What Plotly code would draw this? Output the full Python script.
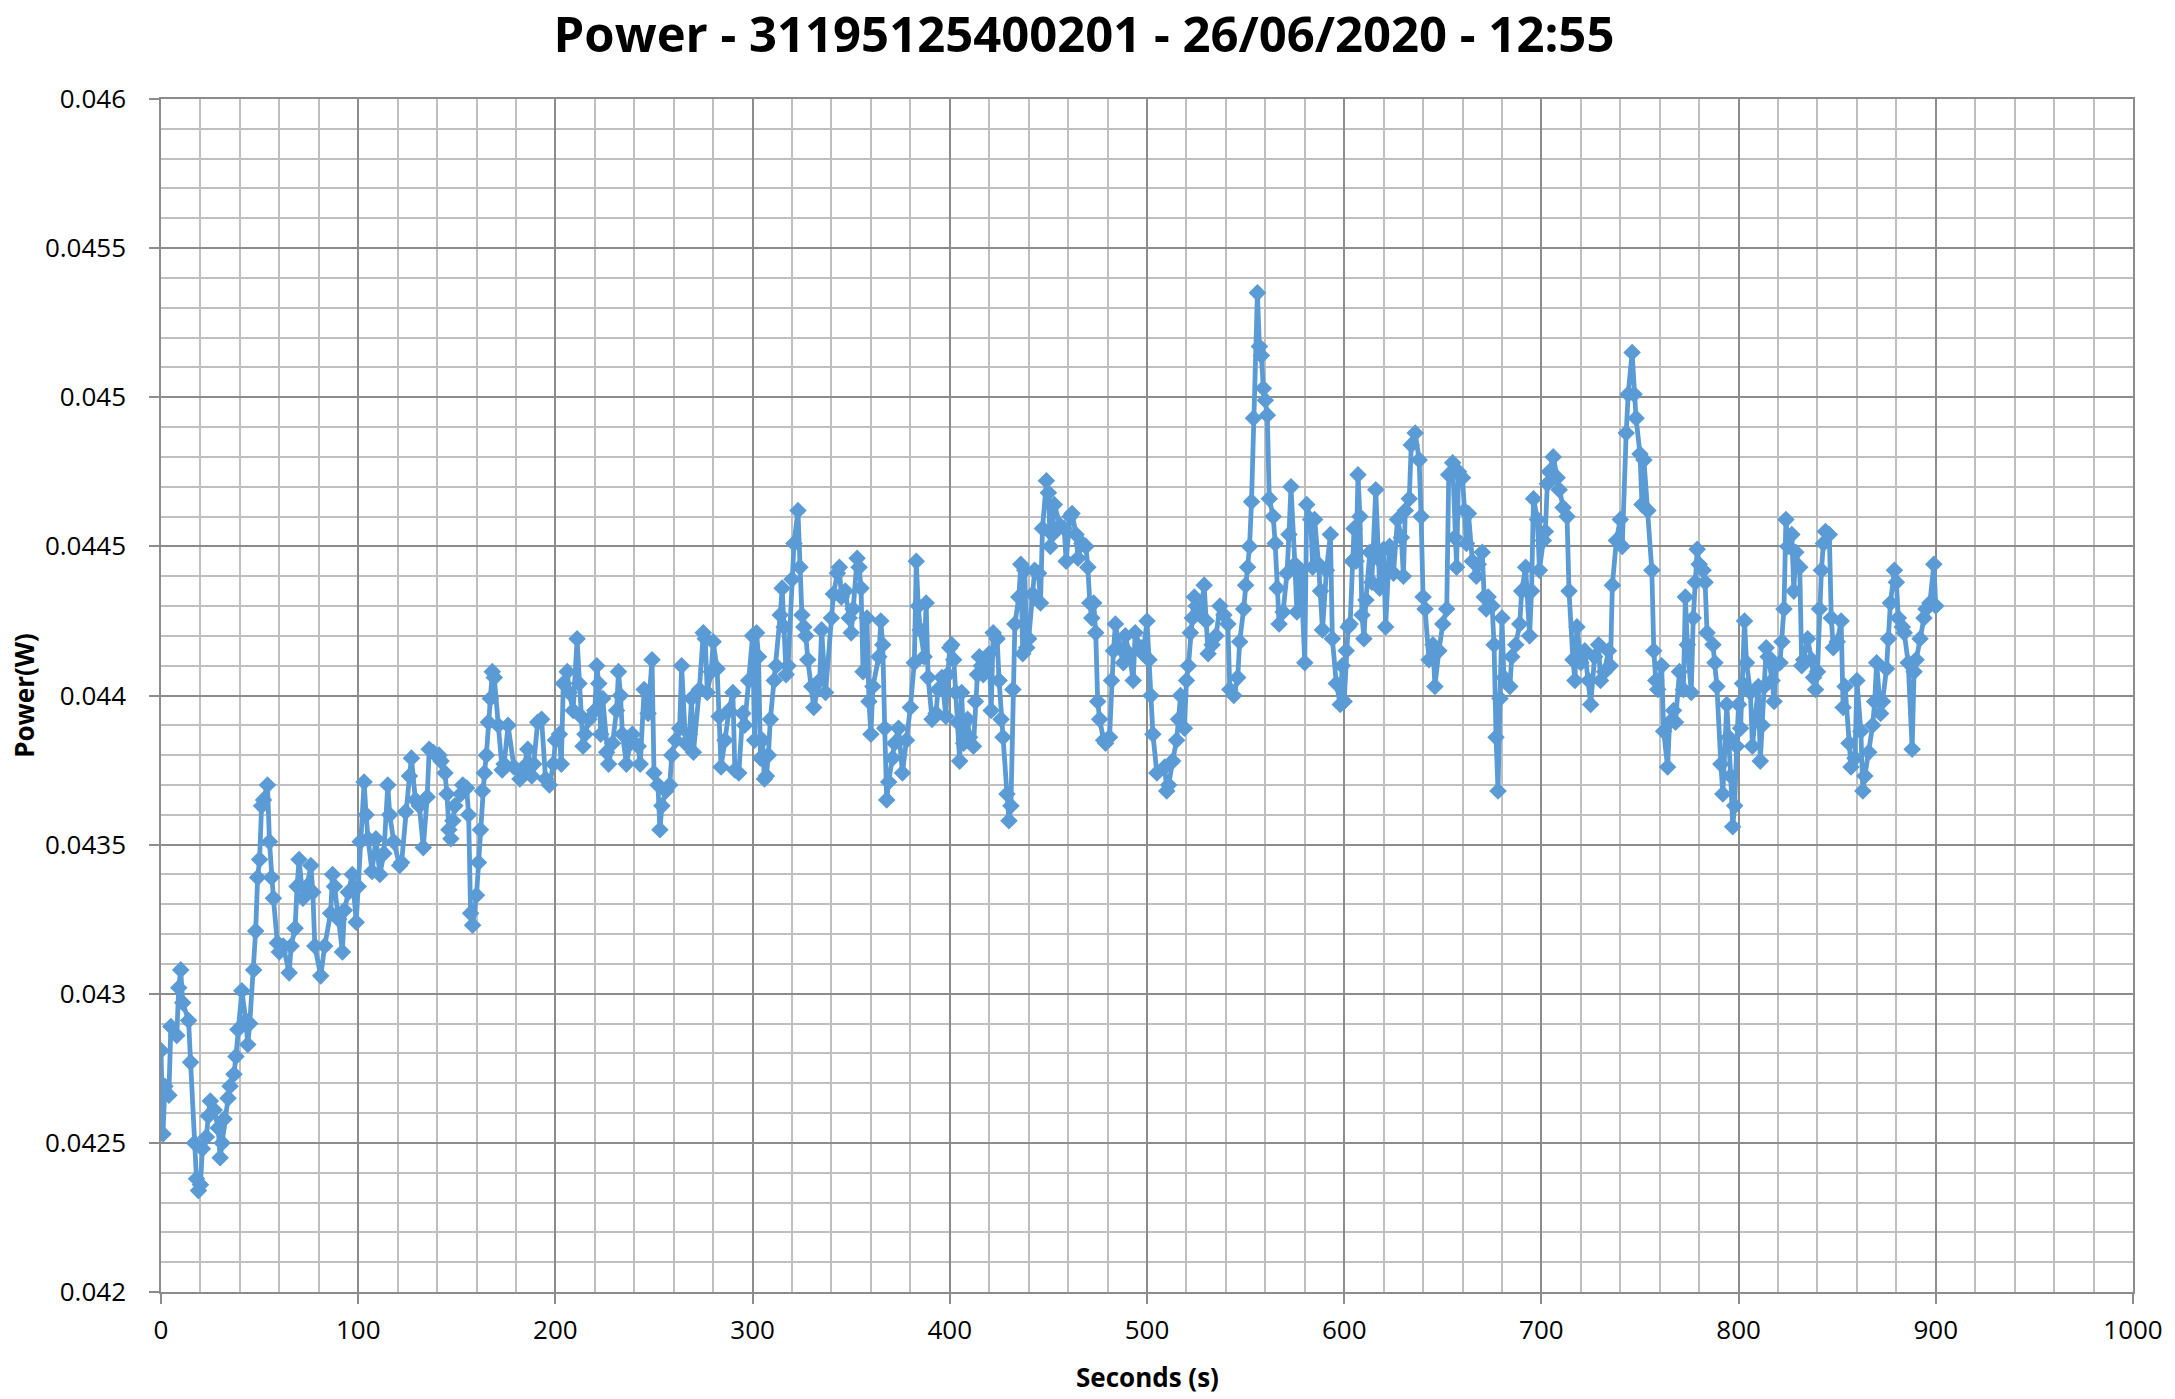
import plotly.graph_objects as go

seconds = [
    0, 1, 2, 4, 5, 8, 9, 10, 11, 14, 15, 17, 18, 19, 20, 21, 23, 24, 25, 27, 29, 30, 31, 32, 34, 35, 37, 38, 39, 41,
    43, 44, 45, 47, 48, 49, 50, 51, 52, 54, 55, 56, 57, 59, 60, 62, 65, 66, 68, 69, 70, 72, 74, 76, 77, 78, 81, 83, 86, 87,
    88, 90, 92, 93, 95, 97, 99, 100, 101, 103, 104, 105, 107, 109, 111, 113, 115, 116, 118, 121, 122, 124, 126, 127, 129, 131, 133, 135, 136, 138,
    141, 142, 144, 145, 146, 147, 148, 149, 152, 153, 155, 156, 157, 158, 160, 161, 162, 163, 164, 165, 166, 167, 168, 169, 171, 173, 174, 176, 179, 182,
    184, 186, 188, 189, 191, 193, 195, 197, 199, 200, 202, 203, 204, 206, 207, 209, 211, 212, 213, 214, 215, 217, 220, 221, 222, 223, 224, 226, 227, 229,
    231, 232, 233, 234, 236, 238, 239, 242, 243, 245, 247, 249, 250, 252, 253, 254, 256, 258, 259, 261, 263, 264, 266, 268, 269, 270, 273, 275, 276, 277,
    279, 280, 282, 283, 284, 286, 288, 290, 291, 293, 295, 296, 298, 300, 301, 302, 303, 304, 305, 306, 307, 308, 309, 311, 312, 314, 315, 316, 317, 318,
    320, 321, 323, 324, 325, 326, 327, 328, 330, 331, 334, 335, 337, 340, 341, 343, 344, 345, 347, 349, 350, 351, 353, 354, 355, 356, 358, 359, 360, 361,
    364, 365, 366, 367, 368, 369, 371, 372, 374, 376, 378, 380, 382, 383, 384, 385, 387, 388, 389, 391, 393, 394, 396, 398, 399, 400, 401, 402, 403, 404,
    405, 406, 407, 409, 410, 412, 413, 414, 415, 416, 417, 420, 421, 422, 424, 425, 426, 427, 429, 430, 431, 432, 433, 435, 436, 437, 438, 439, 440, 442,
    443, 445, 446, 447, 449, 450, 451, 452, 453, 456, 458, 459, 461, 462, 464, 465, 467, 469, 470, 471, 472, 473, 474, 475, 476, 478, 479, 481, 482, 483,
    484, 486, 488, 489, 491, 493, 494, 497, 498, 500, 501, 502, 503, 505, 509, 510, 511, 513, 515, 516, 517, 519, 520, 521, 522, 523, 524, 525, 527, 529,
    530, 531, 533, 535, 537, 539, 541, 542, 544, 546, 547, 549, 550, 551, 552, 553, 554, 556, 557, 558, 559, 560, 561, 562, 564, 565, 566, 567, 569, 571,
    572, 573, 575, 576, 578, 580, 581, 583, 584, 585, 587, 588, 589, 591, 593, 594, 596, 598, 599, 600, 601, 602, 603, 604, 605, 606, 607, 608, 609, 610,
    611, 613, 614, 616, 617, 618, 620, 621, 623, 625, 627, 629, 630, 631, 633, 634, 636, 638, 639, 640, 641, 643, 645, 646, 648, 650, 652, 653, 655, 656,
    657, 658, 660, 661, 662, 663, 665, 667, 668, 670, 671, 672, 673, 675, 676, 677, 678, 679, 680, 681, 684, 685, 687, 689, 690, 692, 694, 695, 696, 698,
    699, 701, 702, 703, 704, 706, 708, 709, 711, 713, 714, 716, 717, 718, 720, 722, 724, 725, 727, 729, 730, 732, 734, 735, 736, 738, 740, 741, 743, 744,
    746, 747, 748, 750, 751, 752, 754, 756, 757, 758, 759, 761, 762, 764, 765, 767, 768, 770, 772, 773, 774, 776, 777, 778, 779, 780, 782, 783, 784, 787,
    788, 789, 791, 792, 794, 795, 796, 797, 798, 799, 800, 801, 802, 803, 804, 806, 807, 810, 811, 812, 813, 814, 815, 817, 818, 819, 821, 822, 823, 824,
    825, 827, 828, 829, 831, 832, 833, 835, 837, 838, 839, 840, 841, 842, 843, 844, 846, 847, 848, 850, 852, 853, 854, 856, 857, 859, 860, 862, 863, 864,
    866, 868, 869, 870, 872, 873, 875, 876, 877, 879, 880, 881, 883, 884, 886, 888, 889, 890, 892, 894, 895, 897, 899, 900,
]

power = [
    0.04281, 0.04253, 0.04269, 0.04266, 0.04289, 0.04286, 0.04302, 0.04308, 0.04297, 0.04291, 0.04277, 0.04250, 0.04238, 0.04234, 0.04236, 0.04248, 0.04252, 0.04259, 0.04264, 0.04261, 0.04255, 0.04245, 0.04250, 0.04258, 0.04265, 0.04269, 0.04273, 0.04279, 0.04288, 0.04301,
    0.04291, 0.04283, 0.04290, 0.04308, 0.04321, 0.04339, 0.04345, 0.04363, 0.04365, 0.04370, 0.04351, 0.04339, 0.04332, 0.04317, 0.04314, 0.04316, 0.04307, 0.04316, 0.04322, 0.04336, 0.04345, 0.04332, 0.04336, 0.04343, 0.04334, 0.04316, 0.04306, 0.04316, 0.04327, 0.04340,
    0.04336, 0.04325, 0.04314, 0.04328, 0.04334, 0.04340, 0.04324, 0.04336, 0.04351, 0.04371, 0.04360, 0.04352, 0.04341, 0.04352, 0.04340, 0.04347, 0.04370, 0.04360, 0.04351, 0.04343, 0.04344, 0.04361, 0.04373, 0.04379, 0.04365, 0.04363, 0.04349, 0.04366, 0.04382, 0.04381,
    0.04380, 0.04378, 0.04374, 0.04367, 0.04355, 0.04352, 0.04358, 0.04363, 0.04367, 0.04370, 0.04369, 0.04360, 0.04327, 0.04323, 0.04333, 0.04344, 0.04355, 0.04368, 0.04374, 0.04380, 0.04391, 0.04399, 0.04408, 0.04406, 0.04390, 0.04375, 0.04377, 0.04390, 0.04376, 0.04372,
    0.04376, 0.04382, 0.04373, 0.04377, 0.04391, 0.04392, 0.04372, 0.04370, 0.04377, 0.04385, 0.04387, 0.04377, 0.04404, 0.04408, 0.04401, 0.04395, 0.04419, 0.04404, 0.04393, 0.04383, 0.04387, 0.04392, 0.04395, 0.04410, 0.04404, 0.04387, 0.04399, 0.04381, 0.04377, 0.04384,
    0.04395, 0.04408, 0.04400, 0.04387, 0.04377, 0.04384, 0.04387, 0.04383, 0.04377, 0.04402, 0.04394, 0.04412, 0.04374, 0.04370, 0.04355, 0.04363, 0.04368, 0.04370, 0.04380, 0.04385, 0.04389, 0.04410, 0.04384, 0.04387, 0.04399, 0.04381, 0.04402, 0.04421, 0.04419, 0.04401,
    0.04408, 0.04418, 0.04409, 0.04393, 0.04376, 0.04385, 0.04395, 0.04401, 0.04375, 0.04374, 0.04394, 0.04390, 0.04405, 0.04420, 0.04385, 0.04421, 0.04413, 0.04379, 0.04385, 0.04372, 0.04373, 0.04380, 0.04392, 0.04405, 0.04410, 0.04427, 0.04436, 0.04423, 0.04407, 0.04410,
    0.04439, 0.04451, 0.04462, 0.04443, 0.04427, 0.04423, 0.04420, 0.04412, 0.04403, 0.04396, 0.04405, 0.04422, 0.04401, 0.04426, 0.04434, 0.04441, 0.04443, 0.04433, 0.04435, 0.04426, 0.04421, 0.04429, 0.04446, 0.04443, 0.04436, 0.04408, 0.04426, 0.04398, 0.04387, 0.04403,
    0.04413, 0.04425, 0.04417, 0.04389, 0.04365, 0.04371, 0.04379, 0.04384, 0.04389, 0.04374, 0.04385, 0.04396, 0.04411, 0.04445, 0.04430, 0.04422, 0.04413, 0.04431, 0.04406, 0.04392, 0.04394, 0.04402, 0.04406, 0.04393, 0.04407, 0.04416, 0.04417, 0.04412, 0.04401, 0.04391,
    0.04378, 0.04401, 0.04384, 0.04392, 0.04386, 0.04383, 0.04398, 0.04407, 0.04413, 0.04410, 0.04407, 0.04414, 0.04395, 0.04421, 0.04419, 0.04405, 0.04392, 0.04386, 0.04367, 0.04358, 0.04363, 0.04402, 0.04424, 0.04433, 0.04444, 0.04414, 0.04442, 0.04416, 0.04419, 0.04434,
    0.04442, 0.04441, 0.04431, 0.04456, 0.04472, 0.04468, 0.04450, 0.04454, 0.04464, 0.04457, 0.04456, 0.04445, 0.04460, 0.04461, 0.04454, 0.04446, 0.04451, 0.04450, 0.04443, 0.04431, 0.04426, 0.04431, 0.04421, 0.04398, 0.04392, 0.04385, 0.04384, 0.04386, 0.04405, 0.04415,
    0.04424, 0.04416, 0.04411, 0.04420, 0.04414, 0.04405, 0.04421, 0.04416, 0.04414, 0.04425, 0.04412, 0.04400, 0.04387, 0.04374, 0.04376, 0.04368, 0.04370, 0.04378, 0.04385, 0.04392, 0.04400, 0.04389, 0.04405, 0.04410, 0.04421, 0.04426, 0.04433, 0.04430, 0.04427, 0.04437,
    0.04425, 0.04414, 0.04417, 0.04420, 0.04430, 0.04427, 0.04424, 0.04402, 0.04400, 0.04406, 0.04418, 0.04429, 0.04437, 0.04443, 0.04450, 0.04465, 0.04493, 0.04535, 0.04517, 0.04514, 0.04503, 0.04499, 0.04494, 0.04466, 0.04460, 0.04451, 0.04436, 0.04424, 0.04428, 0.04441,
    0.04454, 0.04470, 0.04444, 0.04428, 0.04442, 0.04411, 0.04464, 0.04459, 0.04443, 0.04459, 0.04444, 0.04435, 0.04422, 0.04442, 0.04454, 0.04419, 0.04404, 0.04397, 0.04410, 0.04398, 0.04415, 0.04423, 0.04424, 0.04445, 0.04456, 0.04445, 0.04474, 0.04460, 0.04427, 0.04419,
    0.04432, 0.04448, 0.04438, 0.04469, 0.04446, 0.04436, 0.04449, 0.04423, 0.04450, 0.04441, 0.04459, 0.04453, 0.04440, 0.04462, 0.04466, 0.04484, 0.04488, 0.04479, 0.04460, 0.04433, 0.04429, 0.04412, 0.04417, 0.04403, 0.04415, 0.04424, 0.04429, 0.04474, 0.04478, 0.04453,
    0.04443, 0.04475, 0.04473, 0.04462, 0.04451, 0.04461, 0.04445, 0.04440, 0.04444, 0.04448, 0.04433, 0.04429, 0.04433, 0.04430, 0.04417, 0.04386, 0.04368, 0.04399, 0.04426, 0.04406, 0.04403, 0.04413, 0.04417, 0.04424, 0.04435, 0.04443, 0.04420, 0.04435, 0.04466, 0.04459,
    0.04442, 0.04452, 0.04455, 0.04471, 0.04475, 0.04480, 0.04473, 0.04469, 0.04463, 0.04460, 0.04435, 0.04412, 0.04405, 0.04423, 0.04411, 0.04415, 0.04405, 0.04397, 0.04413, 0.04417, 0.04405, 0.04408, 0.04415, 0.04410, 0.04437, 0.04452, 0.04459, 0.04450, 0.04488, 0.04501,
    0.04515, 0.04501, 0.04493, 0.04481, 0.04464, 0.04479, 0.04462, 0.04442, 0.04415, 0.04405, 0.04402, 0.04410, 0.04388, 0.04376, 0.04391, 0.04395, 0.04391, 0.04408, 0.04402, 0.04433, 0.04417, 0.04401, 0.04426, 0.04438, 0.04449, 0.04444, 0.04442, 0.04438, 0.04421, 0.04417,
    0.04411, 0.04403, 0.04377, 0.04367, 0.04397, 0.04386, 0.04373, 0.04356, 0.04363, 0.04383, 0.04397, 0.04389, 0.04404, 0.04425, 0.04411, 0.04401, 0.04383, 0.04403, 0.04378, 0.04390, 0.04403, 0.04416, 0.04413, 0.04405, 0.04398, 0.04410, 0.04411, 0.04418, 0.04429, 0.04459,
    0.04450, 0.04454, 0.04435, 0.04448, 0.04443, 0.04410, 0.04412, 0.04419, 0.04412, 0.04406, 0.04402, 0.04408, 0.04429, 0.04442, 0.04451, 0.04455, 0.04454, 0.04426, 0.04416, 0.04418, 0.04425, 0.04396, 0.04403, 0.04384, 0.04376, 0.04379, 0.04405, 0.04388, 0.04368, 0.04373,
    0.04381, 0.04390, 0.04398, 0.04411, 0.04394, 0.04398, 0.04409, 0.04419, 0.04431, 0.04442, 0.04438, 0.04426, 0.04423, 0.04421, 0.04411, 0.04382, 0.04408, 0.04412, 0.04419, 0.04426, 0.04429, 0.04431, 0.04444, 0.04430,
]

x_tick_vals = [0, 100, 200, 300, 400, 500, 600, 700, 800, 900, 1000]
y_tick_vals = [0.042, 0.0425, 0.043, 0.0435, 0.044, 0.0445, 0.045, 0.0455, 0.046]
y_tick_text = ["0.042", "0.0425", "0.043", "0.0435", "0.044", "0.0445", "0.045", "0.0455", "0.046"]

BLUE = "#5B9BD5"
MAJOR = "#8C8C8C"
MINOR = "#BFBFBF"
FONT = "Open Sans"

W, H = 2175, 1399

fig = go.Figure()
fig.add_trace(go.Scatter(
    x=seconds, y=power, mode="lines+markers",
    line=dict(color=BLUE, width=4.8),
    marker=dict(symbol="diamond", size=13.5, color=BLUE, line=dict(width=0)),
    showlegend=False,
))

fig.update_layout(
    width=W, height=H,
    margin=dict(l=161, r=37, t=99, b=107),
    paper_bgcolor="white", plot_bgcolor="white",
    title=dict(
        text="<b>Power - 31195125400201 - 26/06/2020 - 12:55</b>",
        font=dict(family=FONT, size=49, color="black"),
        xref="container", x=1084 / W, xanchor="center",
        yref="container", y=1 - 35 / H, yanchor="middle",
    ),
    xaxis=dict(
        range=[0, 1000], tickvals=x_tick_vals,
        showgrid=True, gridcolor=MAJOR, gridwidth=1.5,
        minor=dict(dtick=20, tick0=0, showgrid=True, gridcolor=MINOR, gridwidth=1.5),
        showline=True, linecolor=MAJOR, linewidth=1.5, mirror=True,
        ticks="outside", ticklen=10, tickcolor=MAJOR, tickwidth=1.5,
        tickfont=dict(family=FONT, size=26, color="black"),
        ticklabelstandoff=4,
        zeroline=False,
    ),
    yaxis=dict(
        range=[0.042, 0.046], tickvals=y_tick_vals, ticktext=y_tick_text,
        showgrid=True, gridcolor=MAJOR, gridwidth=1.5,
        minor=dict(dtick=0.0001, tick0=0.042, showgrid=True, gridcolor=MINOR, gridwidth=1.5),
        showline=True, linecolor=MAJOR, linewidth=1.5, mirror=True,
        ticks="outside", ticklen=10, tickcolor=MAJOR, tickwidth=1.5,
        tickfont=dict(family=FONT, size=26, color="black"),
        ticklabelstandoff=18,
        zeroline=False,
    ),
    annotations=[
        dict(text="<b>Seconds (s)</b>", xref="paper", yref="paper",
             x=0.5, y=(1292 - 1377) / 1193, xanchor="center", yanchor="middle",
             showarrow=False, font=dict(family=FONT, size=26, color="black")),
        dict(text="<b>Power(W)</b>", xref="paper", yref="paper",
             x=(23 - 161) / 1977, y=0.5, xanchor="center", yanchor="middle",
             textangle=-90, showarrow=False, font=dict(family=FONT, size=26, color="black")),
    ],
)

# remove the browser's default 8 px body margin so the chart fills the window exactly
fig.write_html("out.html", config={"displayModeBar": False},
               post_script="document.body.style.margin='0';")
